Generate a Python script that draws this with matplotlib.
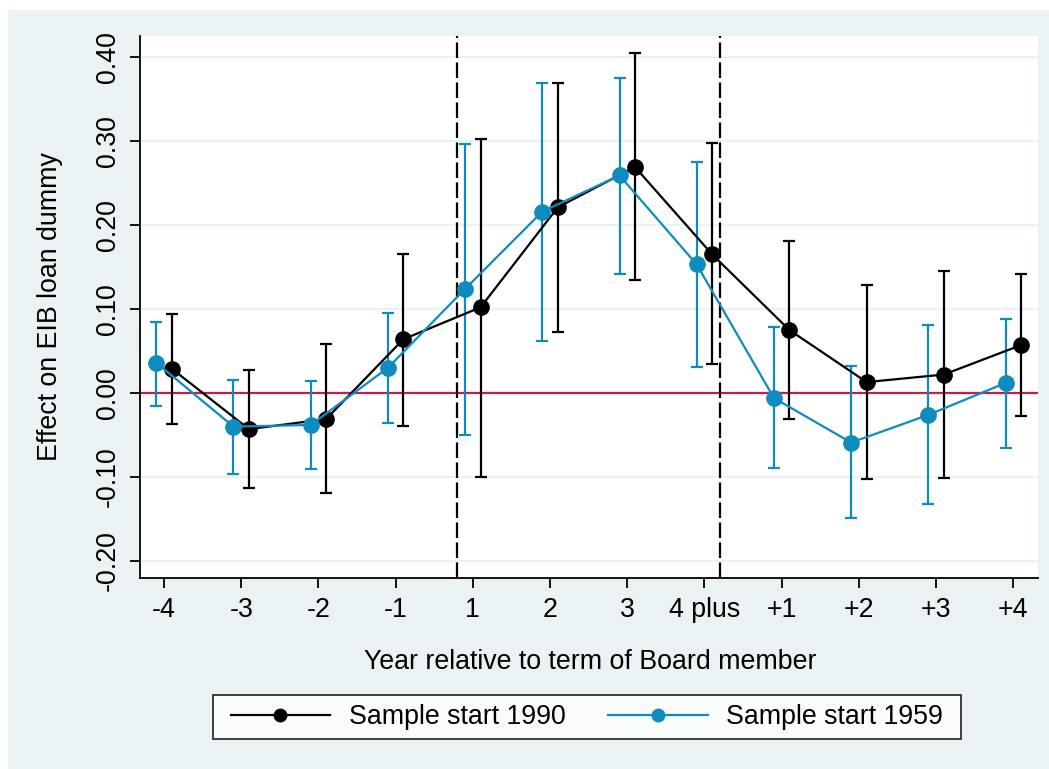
import numpy as np
import matplotlib.pyplot as plt
from matplotlib.patches import Rectangle

plt.rcParams['font.family'] = ['Liberation Sans', 'DejaVu Sans']

labels = ['-4', '-3', '-2', '-1', '1', '2', '3', '4 plus', '+1', '+2', '+3', '+4']

# sample start 1990
b90 = [0.029, -0.043, -0.031, 0.064, 0.102, 0.221, 0.269, 0.165, 0.075, 0.013, 0.022, 0.057]
hi90 = [0.094, 0.027, 0.058, 0.165, 0.302, 0.369, 0.405, 0.298, 0.181, 0.128, 0.145, 0.142]
lo90 = [-0.037, -0.113, -0.119, -0.039, -0.100, 0.073, 0.135, 0.034, -0.031, -0.102, -0.101, -0.027]

# sample start 1959
b59 = [0.036, -0.040, -0.038, 0.030, 0.124, 0.216, 0.259, 0.153, -0.006, -0.059, -0.026, 0.012]
hi59 = [0.085, 0.015, 0.014, 0.095, 0.296, 0.369, 0.375, 0.275, 0.079, 0.032, 0.081, 0.088]
lo59 = [-0.015, -0.096, -0.090, -0.036, -0.050, 0.062, 0.142, 0.031, -0.089, -0.149, -0.132, -0.065]

bg = '#EAF2F3'
blue = '#0E8CC0'
red = '#C41E48'
fs = 19.3

fig = plt.figure(figsize=(10.49, 7.69), dpi=100)
fig.patch.set_facecolor('white')
fig.patches.append(Rectangle((8 / 1049, 0), 1, 1 - 10 / 769, transform=fig.transFigure,
                             facecolor=bg, edgecolor='none', zorder=-10))

ax = fig.add_axes([140 / 1049, 1 - 578 / 769, 898 / 1049, 542 / 769])
ax.set_facecolor('white')

x = np.arange(1, len(labels) + 1)
xb = x + 0.1
xc = x - 0.1

b90 = np.array(b90); b59 = np.array(b59)
err90 = [b90 - np.array(lo90), np.array(hi90) - b90]
err59 = [b59 - np.array(lo59), np.array(hi59) - b59]

ax.axhline(0, color=red, lw=1.6, zorder=2)
for xv in [4.8, 8.2]:
    ax.axvline(xv, color='black', lw=1.6, dashes=(7, 2), zorder=2)

ax.errorbar(xb, b90, yerr=err90, fmt='none', ecolor='black', elinewidth=1.6,
            capsize=4.3, capthick=1.6, zorder=3)
ax.errorbar(xc, b59, yerr=err59, fmt='none', ecolor=blue, elinewidth=1.6,
            capsize=4.3, capthick=1.6, zorder=3)
ax.plot(xb, b90, color='black', lw=1.6, marker='o', ms=11, zorder=4,
        label='Sample start 1990')
ax.plot(xc, b59, color=blue, lw=1.6, marker='o', ms=11, zorder=5,
        label='Sample start 1959')

ax.set_xlim(0.689, 12.32)
ax.set_ylim(-0.2202, 0.425)
yt = [-0.2, -0.1, 0.0, 0.1, 0.2, 0.3, 0.4]
ax.set_yticks(yt)
ax.set_yticklabels(['%.2f' % v for v in yt])
ax.set_xticks(x)
ax.set_xticklabels(labels)
ax.grid(axis='y', color=bg, lw=1.5, zorder=0)
ax.set_axisbelow(True)

for s in ['top', 'right']:
    ax.spines[s].set_visible(False)
for s in ['left', 'bottom']:
    ax.spines[s].set_linewidth(1.3)
ax.tick_params(axis='both', length=7.5, width=1.3, labelsize=fs, pad=6)
plt.setp(ax.get_yticklabels(), rotation=90, va='center')

fig.text(50 / 1049, 1 - 307 / 769, 'Effect on EIB loan dummy', rotation=90,
         ha='center', va='center', fontsize=fs)
fig.text(590 / 1049, 1 - 662 / 769, 'Year relative to term of Board member',
         ha='center', va='center', fontsize=fs)

leg = ax.legend(loc='center', bbox_to_anchor=(587 / 1049, 1 - 717 / 769),
                bbox_transform=fig.transFigure, ncol=2, frameon=True, fancybox=False,
                fontsize=fs, handlelength=3.7, columnspacing=1.6, borderpad=0.35,
                handletextpad=0.7)
frame = leg.get_frame()
frame.set_edgecolor('black')
frame.set_linewidth(1.3)
# extra horizontal padding only
frame.set_boxstyle('square', pad=0.3)
frame.set_mutation_aspect(0.001)
for h in leg.legend_handles:
    h.set_markersize(9)

fig.savefig('out.png', dpi=100, facecolor=fig.get_facecolor())
